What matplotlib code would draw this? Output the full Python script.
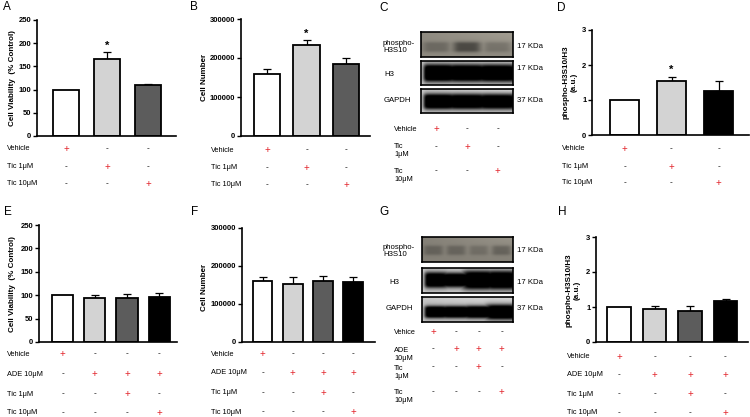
import numpy as np
import matplotlib
matplotlib.use("Agg")
import matplotlib.pyplot as plt
from matplotlib.transforms import blended_transform_factory

plt.rcParams['font.family'] = ['Liberation Sans', 'DejaVu Sans']

# ---------------- data ----------------
A_mean = [100, 166, 110]
A_err = [0, 14, 2]
B_mean = [160000, 233000, 185000]
B_err = [13000, 12000, 14000]
D_mean = [1.0, 1.54, 1.26]
D_err = [0, 0.13, 0.28]
E_mean = [100, 93, 94, 96]
E_err = [0, 7, 8, 9]
F_mean = [161000, 153000, 160000, 157000]
F_err = [11000, 19000, 15000, 15000]
H_mean = [1.0, 0.93, 0.88, 1.17]
H_err = [0, 0.11, 0.16, 0.06]

tic_labels = ["Vehicle", "Tic 1\u03bcM", "Tic 10\u03bcM"]
tic_table = [[1, 0, 0], [0, 1, 0], [0, 0, 1]]
ade_labels = ["Vehicle", "ADE 10\u03bcM", "Tic 1\u03bcM", "Tic 10\u03bcM"]
ade_table = [[1, 0, 0, 0], [0, 1, 1, 1], [0, 0, 1, 0], [0, 0, 0, 1]]

C_row_labels = ["phospho-\nH3S10", "H3", "GAPDH"]
C_kda = ["17 KDa", "17 KDa", "37 KDa"]
C_table_labels = ["Vehicle", "Tic\n1\u03bcM", "Tic\n10\u03bcM"]
G_table_labels = ["Vehice", "ADE\n10\u03bcM", "Tic\n1\u03bcM", "Tic\n10\u03bcM"]

# band darkness per lane
C_phospho = [0.14, 0.28, 0.12]
C_h3 = [0.95, 0.93, 0.95]
C_gapdh = [0.95, 0.93, 0.93]
G_phospho = [0.13, 0.13, 0.10, 0.15]
G_h3 = [0.93, 0.93, 0.96, 0.96]
G_gapdh = [0.93, 0.92, 0.93, 0.95]

# ---------------- helpers ----------------
W, H = 750, 417
fig = plt.figure(figsize=(7.5, 4.17), dpi=100)


def rect(x0, y0, x1, y1):
    return [x0 / W, 1 - y1 / H, (x1 - x0) / W, (y1 - y0) / H]


def ftxt(x, y, s, **kw):
    return fig.text(x / W, 1 - y / H, s, **kw)


RED = '#e3262d'
TICK_FS = 5.5
LAB_FS = 5.3


def marks(ax, table, ys):
    tr = blended_transform_factory(ax.transData, fig.transFigure)
    for row, y in zip(table, ys):
        for j, v in enumerate(row):
            if v:
                fig.text(j, 1 - y / H, '+', transform=tr, color=RED,
                         fontsize=7, ha='center', va='center')
            else:
                fig.text(j, 1 - y / H, '-', transform=tr, color='black',
                         fontsize=6, ha='center', va='center')


def bar_panel(px, c0, sp, width, means, errs, colors, ymax, yticks,
              ytlabels, ylabel, ylab_xy, stars, labels, table, row_y,
              label_x):
    left, top, right, bottom = px
    ax = fig.add_axes(rect(left, top, right, bottom))
    n = len(means)
    xs = np.arange(n)
    ax.bar(xs, means, width=width, color=colors, edgecolor='black',
           linewidth=1.3, zorder=2)
    e = np.array(errs, dtype=float)
    m = np.array(means, dtype=float)
    sel = e > 0
    ax.errorbar(xs[sel], m[sel], yerr=[np.zeros(sel.sum()), e[sel]],
                fmt='none', ecolor='black', elinewidth=0.9, capsize=3,
                capthick=0.9, zorder=1)
    for i in stars:
        ax.annotate('*', xy=(i, m[i] + e[i]), xytext=(0, 1),
                    textcoords='offset points', ha='center', va='bottom',
                    fontsize=8, fontweight='bold')
    ax.set_xlim((left - c0) / sp, (right - c0) / sp)
    ax.set_ylim(0, ymax)
    ax.set_yticks(yticks)
    ax.set_yticklabels(ytlabels, fontsize=TICK_FS, fontweight='bold')
    ax.set_xticks([])
    for s in ('top', 'right'):
        ax.spines[s].set_visible(False)
    for s in ('left', 'bottom'):
        ax.spines[s].set_linewidth(1.2)
    ax.tick_params(axis='y', length=3, width=1.0, pad=1)
    ftxt(ylab_xy[0], ylab_xy[1], ylabel, rotation=90, ha='center',
         va='center', fontsize=5.8, fontweight='bold', linespacing=1.1)
    for lab, y in zip(labels, row_y):
        ftxt(label_x, y, lab, fontsize=LAB_FS, ha='left', va='center')
    marks(ax, table, row_y)
    return ax


def blot_img(lanes, bg, yc, hh, ncol=240, nrow=60, x0=0.03, spread=0.5):
    x = np.linspace(0, 1, ncol)
    y = np.linspace(0, 1, nrow)[:, None]
    n = len(lanes)
    dark = np.zeros((nrow, ncol))
    for i, a in enumerate(lanes):
        c = (i + 0.5) / n
        hw = spread / n
        hx = 1 / (1 + ((x - c) / hw) ** 6)
        h = hh[i] if np.ndim(hh) else hh
        vy = 1 / (1 + ((y - yc) / h) ** 6)
        dark = np.maximum(dark, a * hx[None, :] * vy)
    # rounded left end of the band
    edge = 1 / (1 + np.exp(-(x - x0) / 0.012))
    dark *= edge[None, :]
    bgimg = bg + 0.08 * x[None, :] * (1 - y)
    img = np.clip(bgimg - dark, 0, 1)
    return img


def blot_panel(x0, x1, rows_px, imgs, tints, row_labels, row_lab_xy,
               kda, kda_y, table_labels, table_lab_y, n):
    axes = []
    for (y0, y1), img, tint in zip(rows_px, imgs, tints):
        ax = fig.add_axes(rect(x0, y0, x1, y1))
        rgb = np.clip(img[:, :, None] * np.array(tint)[None, None, :], 0, 1)
        ax.imshow(rgb, extent=(-0.5, n - 0.5, 1, 0), aspect='auto',
                  interpolation='bilinear')
        ax.set_xlim(-0.5, n - 0.5)
        ax.set_ylim(1, 0)
        ax.set_xticks([])
        ax.set_yticks([])
        for s in ax.spines.values():
            s.set_linewidth(1.2)
        axes.append(ax)
    for lab, (lx, ly) in zip(row_labels, row_lab_xy):
        ftxt(lx, ly, lab, fontsize=5.6, ha='left', va='center',
             linespacing=1.05)
    for k, ky in zip(kda, kda_y):
        ftxt(x1 + 4, ky, k, fontsize=5.6, ha='left', va='center')
    for lab, ly in zip(table_labels, table_lab_y):
        ftxt(394, ly, lab, fontsize=LAB_FS, ha='left', va='center',
             linespacing=1.2)
    return axes[-1]


# ---------------- panel A ----------------
c3 = ['white', '#d3d3d3', '#5c5c5c']
bar_panel((37, 20, 176, 136), 66, 41, 0.63, A_mean, A_err, c3, 250,
          [0, 50, 100, 150, 200, 250], ['0', '50', '100', '150', '200', '250'],
          'Cell Viability  (% Control)', (13, 78), [1], tic_labels, tic_table,
          [149, 167, 184], 7)

# ---------------- panel B ----------------
bar_panel((241, 19, 370, 136), 267, 39.5, 0.66, B_mean, B_err, c3, 300000,
          [0, 100000, 200000, 300000], ['0', '100000', '200000', '300000'],
          'Cell Number', (205, 77), [1], tic_labels, tic_table,
          [150, 168, 185], 211)

# ---------------- panel D ----------------
cD = ['white', '#d3d3d3', 'black']
bar_panel((592, 30, 749, 135), 624.5, 47, 0.62, D_mean, D_err, cD, 3,
          [0, 1, 2, 3], ['0', '1', '2', '3'],
          'phospho-H3S10/H3\n(a.u.)', (570, 82), [1], tic_labels, tic_table,
          [149, 167, 183], 562)

# ---------------- panel E ----------------
c4 = ['white', '#d3d3d3', '#5c5c5c', 'black']
bar_panel((39, 225, 177, 342), 62.5, 32.3, 0.66, E_mean, E_err, c4, 250,
          [0, 50, 100, 150, 200, 250], ['0', '50', '100', '150', '200', '250'],
          'Cell Viability  (% Control)', (13, 284), [], ade_labels, ade_table,
          [354, 374, 394, 413], 7)

# ---------------- panel F ----------------
bar_panel((242, 228, 375, 342), 262.5, 30.3, 0.66, F_mean, F_err, c4, 300000,
          [0, 100000, 200000, 300000], ['0', '100000', '200000', '300000'],
          'Cell Number', (205, 287), [], ade_labels, ade_table,
          [354, 373, 393, 412], 211)

# ---------------- panel H ----------------
bar_panel((596, 237, 748, 342), 619, 35.5, 0.67, H_mean, H_err, c4, 3,
          [0, 1, 2, 3], ['0', '1', '2', '3'],
          'phospho-H3S10/H3\n(a.u.)', (573, 290), [], ade_labels, ade_table,
          [357, 375, 394, 413], 567)

# ---------------- panel C (blot) ----------------
warm = (1.0, 0.97, 0.9)
grey = (1.0, 1.0, 1.0)
imgsC = [blot_img(C_phospho, 0.56, 0.6, 0.2, spread=0.42, x0=-0.2),
         blot_img(C_h3, 0.78, 0.5, 0.36, spread=0.75),
         blot_img(C_gapdh, 0.8, 0.52, 0.32, spread=0.75)]
axC = blot_panel(421, 513, [(32, 57), (61, 85), (89, 113)], imgsC,
                 [warm, grey, grey], C_row_labels,
                 [(383, 47), (384, 74), (384, 100)],
                 C_kda, [46, 69, 101], C_table_labels, [129, 151, 175], 3)
marks(axC, tic_table, [129, 147, 171])

# ---------------- panel G (blot) ----------------
imgsG = [blot_img(G_phospho, 0.52, 0.55, 0.18, spread=0.4, x0=-0.2),
         blot_img(G_h3, 0.8, 0.5, [0.3, 0.28, 0.36, 0.36], spread=0.75),
         blot_img(G_gapdh, 0.78, 0.6, [0.24, 0.24, 0.25, 0.3], spread=0.75)]
axG = blot_panel(422, 513, [(237, 262), (268, 293), (297, 322)], imgsG,
                 [warm, grey, grey], C_row_labels,
                 [(383, 251), (389, 283), (386, 309)],
                 C_kda, [251, 282, 308], G_table_labels,
                 [332, 354, 372, 397], 4)
marks(axG, ade_table, [332, 349, 367, 392])

# ---------------- panel letters ----------------
for letter, (x, y) in zip("ABCDEFGH",
                          [(7, 7), (194, 7), (384, 8), (561, 8),
                           (8, 212), (195, 212), (384, 212), (562, 212)]):
    ftxt(x, y, letter, fontsize=8.5, ha='center', va='center')

fig.savefig("out.png", dpi=100)
